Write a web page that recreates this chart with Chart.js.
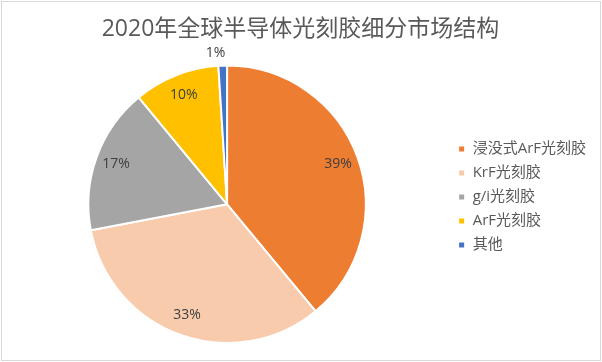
<!DOCTYPE html>
<html>
<head>
<meta charset="utf-8">
<script src="https://cdn.jsdelivr.net/npm/chart.js@4.4.0/dist/chart.umd.min.js"></script>
<style>
  html, body { margin: 0; padding: 0; background: #fff; }
  #wrap { position: relative; width: 602px; height: 362px; }
  #frame { position: absolute; left: 1px; top: 1px; width: 598px; height: 358px; border: 1px solid #d9d9d9; pointer-events: none; }
  canvas { position: absolute; left: 0; top: 0; }
</style>
</head>
<body>
<div id="wrap">
  <canvas id="c" width="602" height="362"></canvas>
  <div id="frame"></div>
</div>
<script>
const chartTitle = '2020年全球半导体光刻胶细分市场结构';
const categories = ['浸没式ArF光刻胶', 'KrF光刻胶', 'g/i光刻胶', 'ArF光刻胶', '其他'];
const shares = [39, 33, 17, 10, 1];
const sliceColors = ['#ED7D31', '#F8CBAD', '#A5A5A5', '#FFC000', '#4472C4'];

const FONT = '"Open Sans", "Noto Sans CJK SC", sans-serif';

const pctLabels = {
  id: 'pctLabels',
  afterDatasetsDraw(chart) {
    const ctx = chart.ctx;
    const meta = chart.getDatasetMeta(0);
    ctx.save();
    ctx.font = '14px ' + FONT;
    ctx.fillStyle = '#404040';
    ctx.textBaseline = 'middle';
    meta.data.forEach((arc, i) => {
      const p = arc.getProps(['x', 'y', 'startAngle', 'endAngle', 'outerRadius'], true);
      const mid = (p.startAngle + p.endAngle) / 2;
      const v = shares[i];
      const outside = v < 5;
      const r = outside ? p.outerRadius + 13 : p.outerRadius * 0.85;
      let lx = p.x + Math.cos(mid) * r;
      const ly = p.y + Math.sin(mid) * r;
      if (outside) { ctx.textAlign = 'right'; lx += 3; } else { ctx.textAlign = 'center'; }
      ctx.fillText(v + '%', lx, ly);
    });
    ctx.restore();
  }
};

const legendShift = {
  id: 'legendShift',
  afterLayout(chart) {
    const lg = chart.legend;
    if (lg) { lg.top += 25; lg.bottom += 25; }
  }
};

new Chart(document.getElementById('c'), {
  type: 'pie',
  data: {
    labels: categories,
    datasets: [{
      data: shares,
      backgroundColor: sliceColors,
      borderColor: '#ffffff',
      borderWidth: 2
    }]
  },
  options: {
    responsive: false,
    animation: false,
    layout: { padding: { left: 5, right: 6, top: 0, bottom: 18 } },
    plugins: {
      title: {
        display: true,
        text: chartTitle,
        color: '#595959',
        font: { family: FONT, size: 23, weight: 'normal' },
        padding: { top: 16, bottom: 21 }
      },
      legend: {
        position: 'right',
        align: 'center',
        labels: {
          boxWidth: 7,
          boxHeight: 7,
          padding: 9,
          color: '#595959',
          font: { family: FONT, size: 15 }
        }
      },
      tooltip: { enabled: false }
    }
  },
  plugins: [pctLabels, legendShift]
});
</script>
</body>
</html>
